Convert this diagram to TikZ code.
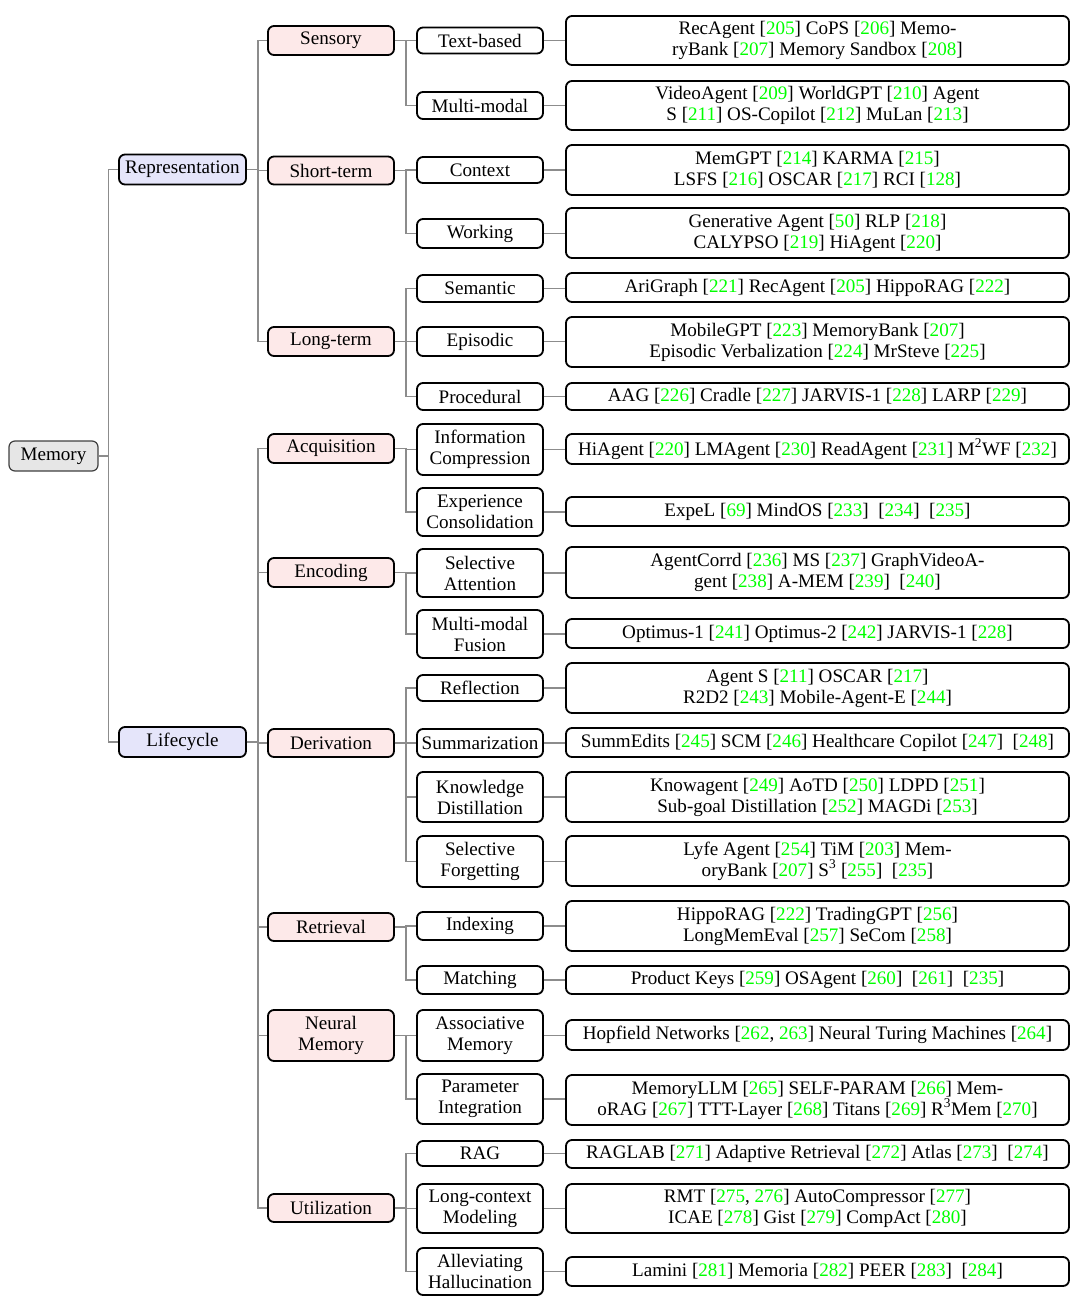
\documentclass[tikz,border=0pt]{standalone}
\usepackage{fontspec}
\setmainfont{Liberation Serif}
\usepackage{xcolor}
\definecolor{citegreen}{rgb}{0,1,0}
\definecolor{edgegray}{RGB}{140,140,140}
\definecolor{lav}{RGB}{229,229,250}
\definecolor{pinkf}{RGB}{253,233,233}
\definecolor{rootf}{RGB}{230,230,230}
\newcommand{\gc}[1]{\textcolor{citegreen}{#1}}
\newcommand{\rf}[1]{[\gc{#1}]}
\begin{document}
\begin{tikzpicture}[x=1pt,y=-1pt,
  every node/.style={font=\fontsize{19.1}{21}\selectfont},
  box/.style={draw=black, line width=1.8pt, rounded corners=6pt, align=center, inner xsep=3pt, inner ysep=1pt},
  rootbox/.style={box, fill=rootf, draw=black!75, line width=1.2pt, minimum width=89pt},
  lone/.style={box, fill=lav, minimum width=127pt},
  ltwo/.style={box, fill=pinkf, minimum width=126pt},
  lthree/.style={box, fill=white, minimum width=126pt},
  lfour/.style={box, fill=white, minimum width=503pt},
  edge/.style={draw=edgegray, line width=1.3pt}
]
\useasboundingbox (0,0) rectangle (1080,1302);

% root and level 1
\node[rootbox, minimum height=30pt] (mem) at (53.5,456) {Memory};
\node[lone, minimum height=30pt] (rep) at (182.5,169.5) {Representation};
\node[lone, minimum height=30pt] (life) at (182.5,742) {Lifecycle};

% level 2
\node[ltwo, minimum height=29pt] (sens) at (331,40.5) {Sensory};
\node[ltwo, minimum height=28pt] (short) at (331,170.5) {Short-term};
\node[ltwo, minimum height=29pt] (long) at (331,341.5) {Long-term};
\node[ltwo, minimum height=29pt] (acq) at (331,448.5) {Acquisition};
\node[ltwo, minimum height=29pt] (enc) at (331,572.5) {Encoding};
\node[ltwo, minimum height=28pt] (der) at (331,743) {Derivation};
\node[ltwo, minimum height=28pt] (ret) at (331,927) {Retrieval};
\node[ltwo, minimum height=51pt] (neur) at (331,1035.5) {Neural\\Memory};
\node[ltwo, minimum height=28pt] (util) at (331,1208) {Utilization};

% level 3
\node[lthree, minimum height=26pt] (tb) at (480,40.5) {Text-based};
\node[lthree, minimum height=27pt] (mm) at (480,105.5) {Multi-modal};
\node[lthree, minimum height=26pt] (ctx) at (480,170) {Context};
\node[lthree, minimum height=29pt] (wk) at (480,233.5) {Working};
\node[lthree, minimum height=27pt] (sem) at (480,288.5) {Semantic};
\node[lthree, minimum height=29pt] (epi) at (480,341.5) {Episodic};
\node[lthree, minimum height=27pt] (proc) at (480,396.5) {Procedural};
\node[lthree, minimum height=51pt] (ic) at (480,449.5) {Information\\Compression};
\node[lthree, minimum height=48pt] (ec) at (480,512) {Experience\\Consolidation};
\node[lthree, minimum height=48pt] (sa) at (480,573) {Selective\\Attention};
\node[lthree, minimum height=48pt] (mf) at (480,634) {Multi-modal\\Fusion};
\node[lthree, minimum height=26pt] (refl) at (480,688) {Reflection};
\node[lthree, minimum height=28pt] (summ) at (480,743) {Summarization};
\node[lthree, minimum height=50pt] (kd) at (480,797) {Knowledge\\Distillation};
\node[lthree, minimum height=51pt] (sf) at (480,861.5) {Selective\\Forgetting};
\node[lthree, minimum height=28pt] (idx) at (480,926) {Indexing};
\node[lthree, minimum height=28pt] (mat) at (480,980) {Matching};
\node[lthree, minimum height=51pt] (am) at (480,1035.5) {Associative\\Memory};
\node[lthree, minimum height=50pt] (pi) at (480,1099) {Parameter\\Integration};
\node[lthree, minimum height=25pt] (rag) at (480,1153.5) {RAG};
\node[lthree, minimum height=49pt] (lcm) at (480,1208.5) {Long-context\\Modeling};
\node[lthree, minimum height=47pt] (ah) at (480,1271.5) {Alleviating\\Hallucination};

% level 4
\node[lfour, minimum height=49pt] (d1) at (817.5,40.5) {RecAgent \rf{205} CoPS \rf{206} Memo-\\ryBank \rf{207} Memory Sandbox \rf{208}};
\node[lfour, minimum height=49pt] (d2) at (817.5,105.5) {VideoAgent \rf{209} WorldGPT \rf{210} Agent\\S \rf{211} OS-Copilot \rf{212} MuLan \rf{213}};
\node[lfour, minimum height=50pt] (d3) at (817.5,170) {MemGPT \rf{214} KARMA \rf{215}\\LSFS \rf{216} OSCAR \rf{217} RCI \rf{128}};
\node[lfour, minimum height=50pt] (d4) at (817.5,233) {Generative Agent \rf{50} RLP \rf{218}\\CALYPSO \rf{219} HiAgent \rf{220}};
\node[lfour, minimum height=29pt] (d5) at (817.5,287.5) {AriGraph \rf{221} RecAgent \rf{205} HippoRAG \rf{222}};
\node[lfour, minimum height=50pt] (d6) at (817.5,342) {MobileGPT \rf{223} MemoryBank \rf{207}\\Episodic Verbalization \rf{224} MrSteve \rf{225}};
\node[lfour, minimum height=27pt] (d7) at (817.5,396.5) {AAG \rf{226} Cradle \rf{227} JARVIS-1 \rf{228} LARP \rf{229}};
\node[lfour, minimum height=30pt] (d8) at (817.5,449) {HiAgent \rf{220} LMAgent \rf{230} ReadAgent \rf{231} M\textsuperscript{2}WF \rf{232}};
\node[lfour, minimum height=29pt] (d9) at (817.5,511.5) {ExpeL \rf{69} MindOS \rf{233}~ \rf{234}~ \rf{235}};
\node[lfour, minimum height=51pt] (d10) at (817.5,572.5) {AgentCorrd \rf{236} MS \rf{237} GraphVideoA-\\gent \rf{238} A-MEM \rf{239}~ \rf{240}};
\node[lfour, minimum height=29pt] (d11) at (817.5,633.5) {Optimus-1 \rf{241} Optimus-2 \rf{242} JARVIS-1 \rf{228}};
\node[lfour, minimum height=50pt] (d12) at (817.5,688) {Agent S \rf{211} OSCAR \rf{217}\\R2D2 \rf{243} Mobile-Agent-E \rf{244}};
\node[lfour, minimum height=29pt] (d13) at (817.5,742.5) {SummEdits \rf{245} SCM \rf{246} Healthcare Copilot \rf{247}~ \rf{248}};
\node[lfour, minimum height=50pt] (d14) at (817.5,797) {Knowagent \rf{249} AoTD \rf{250} LDPD \rf{251}\\Sub-goal Distillation \rf{252} MAGDi \rf{253}};
\node[lfour, minimum height=50pt] (d15) at (817.5,861) {Lyfe Agent \rf{254} TiM \rf{203} Mem-\\oryBank \rf{207} S\textsuperscript{3} \rf{255}~ \rf{235}};
\node[lfour, minimum height=50pt] (d16) at (817.5,926) {HippoRAG \rf{222} TradingGPT \rf{256}\\LongMemEval \rf{257} SeCom \rf{258}};
\node[lfour, minimum height=28pt] (d17) at (817.5,980) {Product Keys \rf{259} OSAgent \rf{260}~ \rf{261}~ \rf{235}};
\node[lfour, minimum height=30pt] (d18) at (817.5,1035) {Hopfield Networks [\gc{262}, \gc{263}] Neural Turing Machines \rf{264}};
\node[lfour, minimum height=50pt] (d19) at (817.5,1100) {MemoryLLM \rf{265} SELF-PARAM \rf{266} Mem-\\oRAG \rf{267} TTT-Layer \rf{268} Titans \rf{269} R\textsuperscript{3}Mem \rf{270}};
\node[lfour, minimum height=28pt] (d20) at (817.5,1154) {RAGLAB \rf{271} Adaptive Retrieval \rf{272} Atlas \rf{273}~ \rf{274}};
\node[lfour, minimum height=49pt] (d21) at (817.5,1208.5) {RMT [\gc{275}, \gc{276}] AutoCompressor \rf{277}\\ICAE \rf{278} Gist \rf{279} CompAct \rf{280}};
\node[lfour, minimum height=29pt] (d22) at (817.5,1271.5) {Lamini \rf{281} Memoria \rf{282} PEER \rf{283}~ \rf{284}};

% forked edges
\foreach \c in {rep,life} \draw[edge] (mem.east) -- ++(10,0) |- (\c.west);
\foreach \c in {sens,short,long} \draw[edge] (rep.east) -- ++(11,0) |- (\c.west);
\foreach \c in {acq,enc,der,ret,neur,util} \draw[edge] (life.east) -- ++(11,0) |- (\c.west);
\foreach \c in {tb,mm} \draw[edge] (sens.east) -- ++(11,0) |- (\c.west);
\foreach \c in {ctx,wk} \draw[edge] (short.east) -- ++(11,0) |- (\c.west);
\foreach \c in {sem,epi,proc} \draw[edge] (long.east) -- ++(11,0) |- (\c.west);
\foreach \c in {ic,ec} \draw[edge] (acq.east) -- ++(11,0) |- (\c.west);
\foreach \c in {sa,mf} \draw[edge] (enc.east) -- ++(11,0) |- (\c.west);
\foreach \c in {refl,summ,kd,sf} \draw[edge] (der.east) -- ++(11,0) |- (\c.west);
\foreach \c in {idx,mat} \draw[edge] (ret.east) -- ++(11,0) |- (\c.west);
\foreach \c in {am,pi} \draw[edge] (neur.east) -- ++(11,0) |- (\c.west);
\foreach \c in {rag,lcm,ah} \draw[edge] (util.east) -- ++(11,0) |- (\c.west);
% leaf edges
\foreach \a/\b in {tb/d1,mm/d2,ctx/d3,wk/d4,sem/d5,epi/d6,proc/d7,ic/d8,ec/d9,sa/d10,mf/d11,refl/d12,summ/d13,kd/d14,sf/d15,idx/d16,mat/d17,am/d18,pi/d19,rag/d20,lcm/d21,ah/d22}
  \draw[edge] (\a.east) -- (\a.east -| \b.west);
\end{tikzpicture}
\end{document}
